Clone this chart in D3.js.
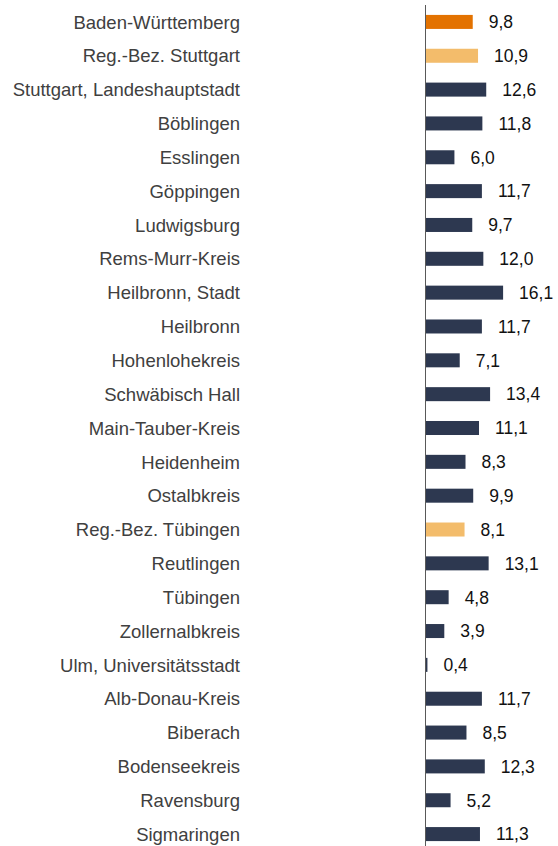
<!DOCTYPE html>
<html>
<head>
<meta charset="utf-8">
<script src="https://cdn.jsdelivr.net/npm/d3@7"></script>
<style>
  html, body { margin: 0; padding: 0; background: #ffffff; }
  svg { display: block; }
  text { font-family: "Liberation Sans", Arial, sans-serif; }
</style>
</head>
<body>
<svg id="chart" width="558" height="846"></svg>
<script>
// Regions (Kreise) and their values
const regions = [
  "Baden-Württemberg", "Reg.-Bez. Stuttgart", "Stuttgart, Landeshauptstadt",
  "Böblingen", "Esslingen", "Göppingen", "Ludwigsburg", "Rems-Murr-Kreis",
  "Heilbronn, Stadt", "Heilbronn", "Hohenlohekreis", "Schwäbisch Hall",
  "Main-Tauber-Kreis", "Heidenheim", "Ostalbkreis", "Reg.-Bez. Tübingen",
  "Reutlingen", "Tübingen", "Zollernalbkreis", "Ulm, Universitätsstadt",
  "Alb-Donau-Kreis", "Biberach", "Bodenseekreis", "Ravensburg", "Sigmaringen"
];
const values = [
  9.8, 10.9, 12.6, 11.8, 6.0, 11.7, 9.7, 12.0, 16.1, 11.7, 7.1, 13.4,
  11.1, 8.3, 9.9, 8.1, 13.1, 4.8, 3.9, 0.4, 11.7, 8.5, 12.3, 5.2, 11.3
];
// Level of each row: land, regierungsbezirk or kreis
const levels = [
  "land", "bezirk", "kreis", "kreis", "kreis", "kreis", "kreis", "kreis",
  "kreis", "kreis", "kreis", "kreis", "kreis", "kreis", "kreis", "bezirk",
  "kreis", "kreis", "kreis", "kreis", "kreis", "kreis", "kreis", "kreis", "kreis"
];

const levelColor = { land: "#E37200", bezirk: "#F3BC6B", kreis: "#2D3850" };

const rows = regions.map((name, i) => ({ name, value: values[i], level: levels[i] }));

const svg = d3.select("#chart");
const axisX = 425.5;

const x = d3.scaleLinear().domain([0, 10]).range([axisX, axisX + 48.2]);

const y = d3.scaleBand()
  .domain(regions)
  .range([5, 851])
  .paddingInner(0.586)
  .paddingOuter(0.293);

const fmt = v => d3.format(".1f")(v).replace(".", ",");

// Bars
svg.append("g").selectAll("rect")
  .data(rows)
  .join("rect")
  .attr("x", x(0))
  .attr("y", d => y(d.name))
  .attr("width", d => x(d.value) - x(0))
  .attr("height", y.bandwidth())
  .attr("fill", d => levelColor[d.level]);

// Category labels
svg.append("g").selectAll("text")
  .data(rows)
  .join("text")
  .attr("x", 240)
  .attr("y", d => y(d.name) + y.bandwidth() / 2)
  .attr("dy", "0.36em")
  .attr("text-anchor", "end")
  .attr("font-size", 18.5)
  .attr("fill", "#404040")
  .text(d => d.name);

// Value labels
svg.append("g").selectAll("text")
  .data(rows)
  .join("text")
  .attr("x", d => x(d.value) + 16)
  .attr("y", d => y(d.name) + y.bandwidth() / 2)
  .attr("dy", "0.36em")
  .attr("font-size", 17.5)
  .attr("fill", "#111111")
  .text(d => fmt(d.value));

// Vertical baseline
svg.append("line")
  .attr("x1", axisX).attr("x2", axisX)
  .attr("y1", 5).attr("y2", 846)
  .attr("stroke", "#595959")
  .attr("stroke-width", 1);
</script>
</body>
</html>
